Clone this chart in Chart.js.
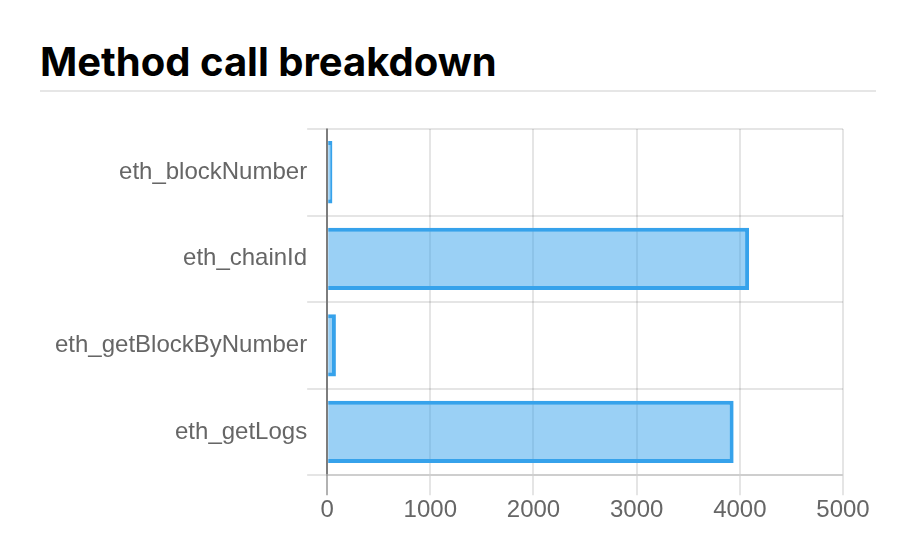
<!DOCTYPE html>
<html>
<head>
<meta charset="utf-8">
<script src="https://cdn.jsdelivr.net/npm/chart.js@4/dist/chart.umd.min.js"></script>
<style>
  html, body { margin: 0; padding: 0; background: #fff; }
  body { width: 912px; height: 554px; position: relative; overflow: hidden; }
  h2 {
    position: absolute; left: 40px; top: 40px; margin: 0;
    font-family: Inter, "Liberation Sans", sans-serif; font-weight: 700;
    font-size: 40px; line-height: 44px; color: #000; letter-spacing: 0;
  }
  .rule { position: absolute; left: 40px; top: 90px; width: 836px; height: 2px; background: #e6e6e6; }
  .chart-box { position: absolute; left: 40px; top: 110px; width: 836px; height: 416px; }
</style>
</head>
<body>
<h2>Method call breakdown</h2>
<div class="rule"></div>
<div class="chart-box"><canvas id="methodChart"></canvas></div>
<script>
const methods = ['eth_blockNumber', 'eth_chainId', 'eth_getBlockByNumber', 'eth_getLogs'];
const callCounts = [51, 4090, 85, 3940];
const axisMin = 0;
const axisMax = 5000;
const axisStep = 1000;

const gridColor = 'rgba(0,0,0,0.1)';
const zeroColor = 'rgba(0,0,0,0.3)';
const tickFont = { family: '"Liberation Sans", Arial, sans-serif', size: 24 };

const ctx = document.getElementById('methodChart').getContext('2d');
new Chart(ctx, {
    type: 'bar',
    data: {
        labels: methods,
        datasets: [{
            label: 'Calls',
            data: callCounts,
            backgroundColor: 'rgba(54,162,235,0.5)',
            borderColor: 'rgb(54,162,235)',
            borderWidth: 4
        }]
    },
    options: {
        indexAxis: 'y',
        responsive: true,
        maintainAspectRatio: false,
        animation: false,
        layout: { padding: { left: 15, right: 33, top: 19, bottom: 0 } },
        plugins: { legend: { display: false }, tooltip: { enabled: false } },
        scales: {
            x: {
                min: axisMin,
                max: axisMax,
                ticks: {
                    stepSize: axisStep, color: '#666', font: tickFont, padding: 1,
                    callback: v => String(v)
                },
                grid: {
                    color: c => (c.tick && c.tick.value === 0 ? zeroColor : gridColor),
                    lineWidth: 2,
                    tickLength: 20
                },
                border: { color: gridColor, width: 2 }
            },
            y: {
                ticks: { color: '#666', font: tickFont, padding: 0 },
                grid: { color: gridColor, lineWidth: 2, tickLength: 20 },
                border: { color: zeroColor, width: 2 }
            }
        }
    }
});
</script>
</body>
</html>
